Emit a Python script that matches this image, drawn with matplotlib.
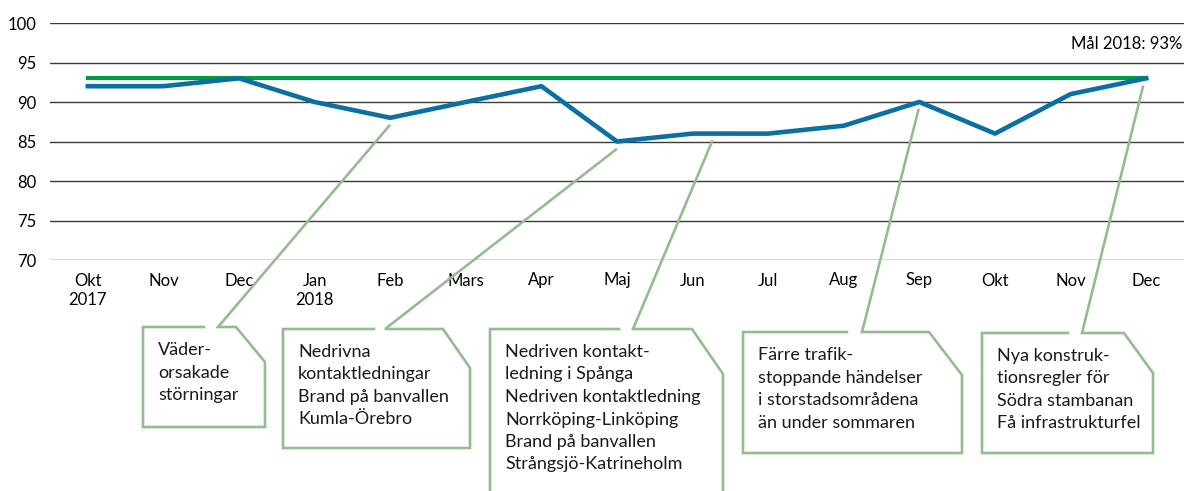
import matplotlib.pyplot as plt

plt.rcParams['font.family'] = ['Lato', 'DejaVu Sans']

# Data
months = ['Okt\n2017', 'Nov', 'Dec', 'Jan\n2018', 'Feb', 'Mars', 'Apr', 'Maj',
          'Jun', 'Jul', 'Aug', 'Sep', 'Okt', 'Nov', 'Dec']
punctuality = [92, 92, 93, 90, 88, 90, 92, 85, 86, 86, 87, 90, 86, 91, 93]
target = 93
target_label = 'Mål 2018: 93%'

callout_texts = [
    'Väder-\norsakade\nstörningar',
    'Nedrivna\nkontaktledningar\nBrand på banvallen\nKumla-Örebro',
    'Nedriven kontakt-\nledning i Spånga\nNedriven kontaktledning\nNorrköping-Linköping\nBrand på banvallen\nStrångsjö-Katrineholm',
    'Färre trafik-\nstoppande händelser\ni storstadsområdena\nän under sommaren',
    'Nya konstruk-\ntionsregler för\nSödra stambanan\nFå infrastrukturfel',
]
callout_month = [4, 7, 8, 11, 14]

# Box layout in pixels: left, top, right, bottom, gap, tip, shoulder, cut_y, pointer x shift (in months)
box_layout = [
    (143, 327, 265, 427, 204, 218, 236, 362, 0.0),
    (283, 329, 470, 448, 374, 385, 443, 368, 0.0),
    (490, 329, 723, 520, 619, 633, 692, 374, 0.27),
    (743, 332, 962, 453, 847, 862, 929, 375, 0.0),
    (982, 333, 1153, 453, 1068, 1082, 1124, 373, -0.03),
]

W, H = 1185, 491
fig = plt.figure(figsize=(W / 100, H / 100), dpi=100)
ax = fig.add_axes([50 / W, 1 - 260 / H, (1184 - 50) / W, (260 - 23) / H])

x = list(range(len(months)))
ax.plot(x, [target] * len(months), color='#009a44', lw=3, zorder=2)
ax.plot(x, punctuality, color='#0a6fa3', lw=3.3, zorder=3)

ax.set_xlim(-0.5, len(months) - 0.5)
ax.set_ylim(70, 100)
ax.set_yticks(range(70, 101, 5))
ax.set_xticks(x)
ax.set_xticklabels(months, fontsize=12, linespacing=1.3)
ax.tick_params(axis='y', length=0, pad=10, labelsize=12)
ax.tick_params(axis='x', length=0, pad=9)
ax.grid(axis='y', color='#3a3a3a', lw=1)
ax.grid(axis='x', visible=False)
ax.set_axisbelow(True)
for s in ax.spines.values():
    s.set_visible(False)

ax.text(len(months) - 0.52, 97.4, target_label, ha='right', va='center', fontsize=12)

# Overlay in pixel coordinates for the callouts
ov = fig.add_axes([0, 0, 1, 1])
ov.set_xlim(0, W)
ov.set_ylim(H, 0)
ov.axis('off')

green = '#93bd8f'
for text, m, lay in zip(callout_texts, callout_month, box_layout):
    left, top, right, bottom, gap, tip, shoulder, cut_y, shift = lay
    if shift > 0:
        yv = punctuality[m] + shift * (punctuality[m + 1] - punctuality[m])
    elif shift < 0:
        yv = punctuality[m] + shift * (punctuality[m] - punctuality[m - 1])
    else:
        yv = punctuality[m]
    px, py = ax.transData.transform((m + shift, yv))
    end = (px - 1, H - py + 8)
    ov.plot([gap, left, left, right, right, shoulder, tip, end[0]],
            [top, top, bottom, bottom, cut_y, top, top, end[1]],
            color=green, lw=1.9, solid_joinstyle='miter')
    ov.text(left + 15, top + 15, text, ha='left', va='top', fontsize=13,
            linespacing=1.5, color='#1a1a1a')

fig.savefig('out.png', dpi=100)
